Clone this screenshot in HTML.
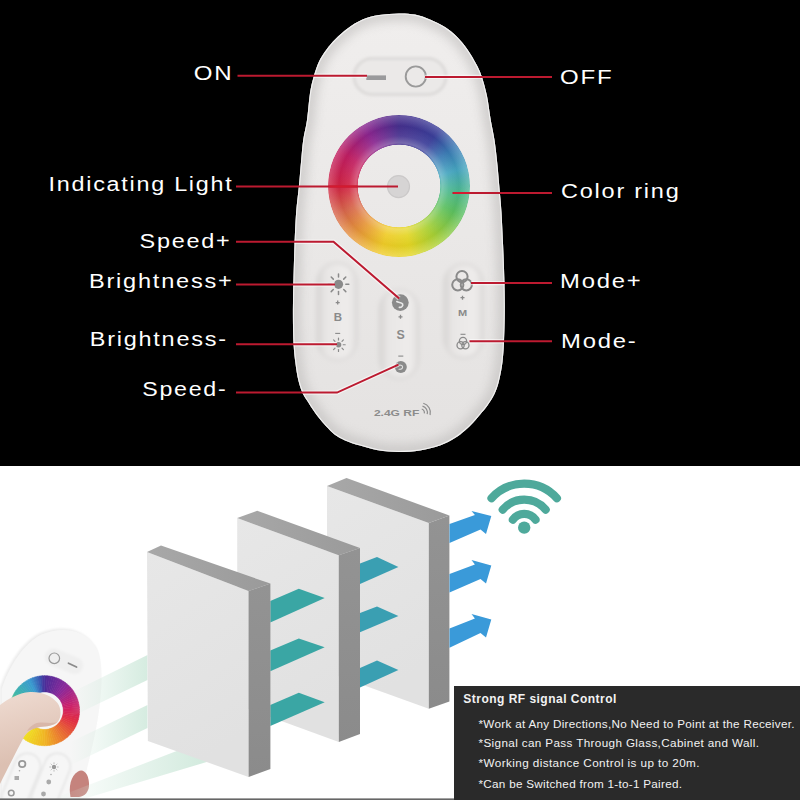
<!DOCTYPE html>
<html><head><meta charset="utf-8">
<style>
html,body{margin:0;padding:0;width:800px;height:800px;overflow:hidden;background:#fff}
#wrap{position:relative;width:800px;height:800px}
svg{position:absolute;left:0;top:0}
.ring{position:absolute;border-radius:50%}
</style></head><body><div id="wrap">
<svg width="800" height="800" viewBox="0 0 800 800">
<defs>
  <filter id="shade" x="-10%" y="-10%" width="120%" height="120%"><feGaussianBlur stdDeviation="5"/></filter>
  <linearGradient id="pillg" x1="0" y1="0" x2="1" y2="0">
    <stop offset="0" stop-color="#d6d4d3"/>
    <stop offset="0.22" stop-color="#e8e6e5"/>
    <stop offset="0.75" stop-color="#eeeceb"/>
    <stop offset="0.92" stop-color="#e6e4e3"/>
    <stop offset="1" stop-color="#d9d7d6"/>
  </linearGradient>
  <linearGradient id="topf" x1="0" y1="0" x2="1" y2="0">
    <stop offset="0" stop-color="#a8a8a8"/><stop offset="1" stop-color="#9a9a9a"/>
  </linearGradient>
  <linearGradient id="sidef" x1="0" y1="0" x2="0" y2="1">
    <stop offset="0" stop-color="#939393"/><stop offset="1" stop-color="#8b8b8b"/>
  </linearGradient>
  <linearGradient id="frontf" x1="0" y1="0" x2="0.3" y2="1">
    <stop offset="0" stop-color="#e7e7e7"/><stop offset="1" stop-color="#e1e1e1"/>
  </linearGradient>
  <filter id="soft" x="-20%" y="-50%" width="140%" height="200%"><feGaussianBlur stdDeviation="1.5"/></filter>
  <filter id="soft2" x="-50%" y="-20%" width="200%" height="140%"><feGaussianBlur stdDeviation="2"/></filter>
  <linearGradient id="rbody" x1="0" y1="0" x2="0" y2="1">
    <stop offset="0" stop-color="#f0eeed"/>
    <stop offset="0.5" stop-color="#eae8e7"/>
    <stop offset="1" stop-color="#e4e2e1"/>
  </linearGradient>
</defs>
<rect x="0" y="0" width="800" height="466" fill="#000"/>
<rect x="0" y="466" width="800" height="334" fill="#fff"/>
<!-- remote body -->
<clipPath id="rclip"><path d="M399 13.4 C405.0 13.3 409.8 13.6 415 14.6 C420.2 15.6 425.0 17.4 430 19.5 C435.0 21.6 440.5 24.1 445 27 C449.5 29.9 453.2 33.0 457 36.75 C460.8 40.5 464.2 44.9 467.5 49.5 C470.8 54.1 474.1 60.0 476.5 64.5 C478.9 69.0 480.0 71.2 481.75 76.5 C483.5 81.8 485.5 88.8 487 96 C488.5 103.2 489.5 112.7 490.75 120 C492.0 127.3 493.4 132.9 494.5 140 C495.6 147.1 496.4 155.0 497.2 162.5 C498.0 170.0 498.5 176.7 499.2 185 C499.9 193.3 500.9 202.5 501.5 212.5 C502.1 222.5 502.6 234.2 503.1 245 C503.6 255.8 504.0 266.7 504.3 277.5 C504.6 288.3 504.9 299.2 504.8 310 C504.8 320.8 504.4 333.3 504 342 C503.6 350.7 503.3 355.5 502.5 362 C501.7 368.5 500.3 375.7 499 381 C497.7 386.3 496.4 389.9 494.5 394 C492.6 398.1 489.9 402.1 487.5 405.5 C485.1 408.9 482.6 411.6 480.2 414.4 C477.8 417.2 475.9 419.8 473.3 422.5 C470.7 425.2 467.8 428.1 464.75 430.65 C461.7 433.2 459.1 435.5 455 438 C450.9 440.5 445.8 443.4 440 445.5 C434.2 447.6 426.8 449.4 420 450.5 C413.2 451.6 406.0 452.0 399 452 C392.0 452.0 384.5 451.4 378 450.3 C371.5 449.2 365.5 447.1 360 445.5 C354.5 443.9 349.2 442.2 345 440.4 C340.8 438.6 337.9 437.0 334.8 434.7 C331.7 432.4 328.9 429.3 326.3 426.6 C323.7 423.9 321.6 421.2 319.4 418.5 C317.2 415.8 315.2 413.1 313.3 410.3 C311.4 407.6 309.7 404.7 308 402 C306.3 399.3 304.6 397.5 303 394 C301.4 390.5 299.8 386.3 298.5 381 C297.2 375.7 296.1 368.4 295.3 362 C294.5 355.6 293.9 351.2 293.5 342.5 C293.1 333.8 292.9 320.8 292.9 310 C292.9 299.2 293.2 288.3 293.5 277.5 C293.8 266.7 294.1 255.8 294.5 245 C294.9 234.2 295.4 222.5 296.1 212.5 C296.9 202.5 298.2 193.4 299 185 C299.8 176.6 300.3 169.5 301 162 C301.7 154.5 302.2 147.0 303.2 140 C304.2 133.0 305.9 127.8 307 120 C308.1 112.2 308.9 100.2 310 93 C311.1 85.8 312.2 81.8 313.75 76.5 C315.2 71.2 316.9 66.0 319 61.5 C321.1 57.0 323.8 53.2 326.5 49.5 C329.2 45.8 332.0 42.5 335.5 39 C339.0 35.5 343.0 31.8 347.5 28.5 C352.0 25.2 357.2 21.8 362.5 19.5 C367.8 17.2 372.9 16.0 379 15 C385.1 14.0 393.0 13.5 399 13.4Z"/></clipPath>
<path d="M399 13.4 C405.0 13.3 409.8 13.6 415 14.6 C420.2 15.6 425.0 17.4 430 19.5 C435.0 21.6 440.5 24.1 445 27 C449.5 29.9 453.2 33.0 457 36.75 C460.8 40.5 464.2 44.9 467.5 49.5 C470.8 54.1 474.1 60.0 476.5 64.5 C478.9 69.0 480.0 71.2 481.75 76.5 C483.5 81.8 485.5 88.8 487 96 C488.5 103.2 489.5 112.7 490.75 120 C492.0 127.3 493.4 132.9 494.5 140 C495.6 147.1 496.4 155.0 497.2 162.5 C498.0 170.0 498.5 176.7 499.2 185 C499.9 193.3 500.9 202.5 501.5 212.5 C502.1 222.5 502.6 234.2 503.1 245 C503.6 255.8 504.0 266.7 504.3 277.5 C504.6 288.3 504.9 299.2 504.8 310 C504.8 320.8 504.4 333.3 504 342 C503.6 350.7 503.3 355.5 502.5 362 C501.7 368.5 500.3 375.7 499 381 C497.7 386.3 496.4 389.9 494.5 394 C492.6 398.1 489.9 402.1 487.5 405.5 C485.1 408.9 482.6 411.6 480.2 414.4 C477.8 417.2 475.9 419.8 473.3 422.5 C470.7 425.2 467.8 428.1 464.75 430.65 C461.7 433.2 459.1 435.5 455 438 C450.9 440.5 445.8 443.4 440 445.5 C434.2 447.6 426.8 449.4 420 450.5 C413.2 451.6 406.0 452.0 399 452 C392.0 452.0 384.5 451.4 378 450.3 C371.5 449.2 365.5 447.1 360 445.5 C354.5 443.9 349.2 442.2 345 440.4 C340.8 438.6 337.9 437.0 334.8 434.7 C331.7 432.4 328.9 429.3 326.3 426.6 C323.7 423.9 321.6 421.2 319.4 418.5 C317.2 415.8 315.2 413.1 313.3 410.3 C311.4 407.6 309.7 404.7 308 402 C306.3 399.3 304.6 397.5 303 394 C301.4 390.5 299.8 386.3 298.5 381 C297.2 375.7 296.1 368.4 295.3 362 C294.5 355.6 293.9 351.2 293.5 342.5 C293.1 333.8 292.9 320.8 292.9 310 C292.9 299.2 293.2 288.3 293.5 277.5 C293.8 266.7 294.1 255.8 294.5 245 C294.9 234.2 295.4 222.5 296.1 212.5 C296.9 202.5 298.2 193.4 299 185 C299.8 176.6 300.3 169.5 301 162 C301.7 154.5 302.2 147.0 303.2 140 C304.2 133.0 305.9 127.8 307 120 C308.1 112.2 308.9 100.2 310 93 C311.1 85.8 312.2 81.8 313.75 76.5 C315.2 71.2 316.9 66.0 319 61.5 C321.1 57.0 323.8 53.2 326.5 49.5 C329.2 45.8 332.0 42.5 335.5 39 C339.0 35.5 343.0 31.8 347.5 28.5 C352.0 25.2 357.2 21.8 362.5 19.5 C367.8 17.2 372.9 16.0 379 15 C385.1 14.0 393.0 13.5 399 13.4Z" fill="url(#rbody)"/>
<g clip-path="url(#rclip)">
  <path d="M399 13.4 C405.0 13.3 409.8 13.6 415 14.6 C420.2 15.6 425.0 17.4 430 19.5 C435.0 21.6 440.5 24.1 445 27 C449.5 29.9 453.2 33.0 457 36.75 C460.8 40.5 464.2 44.9 467.5 49.5 C470.8 54.1 474.1 60.0 476.5 64.5 C478.9 69.0 480.0 71.2 481.75 76.5 C483.5 81.8 485.5 88.8 487 96 C488.5 103.2 489.5 112.7 490.75 120 C492.0 127.3 493.4 132.9 494.5 140 C495.6 147.1 496.4 155.0 497.2 162.5 C498.0 170.0 498.5 176.7 499.2 185 C499.9 193.3 500.9 202.5 501.5 212.5 C502.1 222.5 502.6 234.2 503.1 245 C503.6 255.8 504.0 266.7 504.3 277.5 C504.6 288.3 504.9 299.2 504.8 310 C504.8 320.8 504.4 333.3 504 342 C503.6 350.7 503.3 355.5 502.5 362 C501.7 368.5 500.3 375.7 499 381 C497.7 386.3 496.4 389.9 494.5 394 C492.6 398.1 489.9 402.1 487.5 405.5 C485.1 408.9 482.6 411.6 480.2 414.4 C477.8 417.2 475.9 419.8 473.3 422.5 C470.7 425.2 467.8 428.1 464.75 430.65 C461.7 433.2 459.1 435.5 455 438 C450.9 440.5 445.8 443.4 440 445.5 C434.2 447.6 426.8 449.4 420 450.5 C413.2 451.6 406.0 452.0 399 452 C392.0 452.0 384.5 451.4 378 450.3 C371.5 449.2 365.5 447.1 360 445.5 C354.5 443.9 349.2 442.2 345 440.4 C340.8 438.6 337.9 437.0 334.8 434.7 C331.7 432.4 328.9 429.3 326.3 426.6 C323.7 423.9 321.6 421.2 319.4 418.5 C317.2 415.8 315.2 413.1 313.3 410.3 C311.4 407.6 309.7 404.7 308 402 C306.3 399.3 304.6 397.5 303 394 C301.4 390.5 299.8 386.3 298.5 381 C297.2 375.7 296.1 368.4 295.3 362 C294.5 355.6 293.9 351.2 293.5 342.5 C293.1 333.8 292.9 320.8 292.9 310 C292.9 299.2 293.2 288.3 293.5 277.5 C293.8 266.7 294.1 255.8 294.5 245 C294.9 234.2 295.4 222.5 296.1 212.5 C296.9 202.5 298.2 193.4 299 185 C299.8 176.6 300.3 169.5 301 162 C301.7 154.5 302.2 147.0 303.2 140 C304.2 133.0 305.9 127.8 307 120 C308.1 112.2 308.9 100.2 310 93 C311.1 85.8 312.2 81.8 313.75 76.5 C315.2 71.2 316.9 66.0 319 61.5 C321.1 57.0 323.8 53.2 326.5 49.5 C329.2 45.8 332.0 42.5 335.5 39 C339.0 35.5 343.0 31.8 347.5 28.5 C352.0 25.2 357.2 21.8 362.5 19.5 C367.8 17.2 372.9 16.0 379 15 C385.1 14.0 393.0 13.5 399 13.4Z" fill="none" stroke="#bdbbba" stroke-width="16" filter="url(#shade)" opacity="0.55"/>
  <path d="M399 13.4 C405.0 13.3 409.8 13.6 415 14.6 C420.2 15.6 425.0 17.4 430 19.5 C435.0 21.6 440.5 24.1 445 27 C449.5 29.9 453.2 33.0 457 36.75 C460.8 40.5 464.2 44.9 467.5 49.5 C470.8 54.1 474.1 60.0 476.5 64.5 C478.9 69.0 480.0 71.2 481.75 76.5 C483.5 81.8 485.5 88.8 487 96 C488.5 103.2 489.5 112.7 490.75 120 C492.0 127.3 493.4 132.9 494.5 140 C495.6 147.1 496.4 155.0 497.2 162.5 C498.0 170.0 498.5 176.7 499.2 185 C499.9 193.3 500.9 202.5 501.5 212.5 C502.1 222.5 502.6 234.2 503.1 245 C503.6 255.8 504.0 266.7 504.3 277.5 C504.6 288.3 504.9 299.2 504.8 310 C504.8 320.8 504.4 333.3 504 342 C503.6 350.7 503.3 355.5 502.5 362 C501.7 368.5 500.3 375.7 499 381 C497.7 386.3 496.4 389.9 494.5 394 C492.6 398.1 489.9 402.1 487.5 405.5 C485.1 408.9 482.6 411.6 480.2 414.4 C477.8 417.2 475.9 419.8 473.3 422.5 C470.7 425.2 467.8 428.1 464.75 430.65 C461.7 433.2 459.1 435.5 455 438 C450.9 440.5 445.8 443.4 440 445.5 C434.2 447.6 426.8 449.4 420 450.5 C413.2 451.6 406.0 452.0 399 452 C392.0 452.0 384.5 451.4 378 450.3 C371.5 449.2 365.5 447.1 360 445.5 C354.5 443.9 349.2 442.2 345 440.4 C340.8 438.6 337.9 437.0 334.8 434.7 C331.7 432.4 328.9 429.3 326.3 426.6 C323.7 423.9 321.6 421.2 319.4 418.5 C317.2 415.8 315.2 413.1 313.3 410.3 C311.4 407.6 309.7 404.7 308 402 C306.3 399.3 304.6 397.5 303 394 C301.4 390.5 299.8 386.3 298.5 381 C297.2 375.7 296.1 368.4 295.3 362 C294.5 355.6 293.9 351.2 293.5 342.5 C293.1 333.8 292.9 320.8 292.9 310 C292.9 299.2 293.2 288.3 293.5 277.5 C293.8 266.7 294.1 255.8 294.5 245 C294.9 234.2 295.4 222.5 296.1 212.5 C296.9 202.5 298.2 193.4 299 185 C299.8 176.6 300.3 169.5 301 162 C301.7 154.5 302.2 147.0 303.2 140 C304.2 133.0 305.9 127.8 307 120 C308.1 112.2 308.9 100.2 310 93 C311.1 85.8 312.2 81.8 313.75 76.5 C315.2 71.2 316.9 66.0 319 61.5 C321.1 57.0 323.8 53.2 326.5 49.5 C329.2 45.8 332.0 42.5 335.5 39 C339.0 35.5 343.0 31.8 347.5 28.5 C352.0 25.2 357.2 21.8 362.5 19.5 C367.8 17.2 372.9 16.0 379 15 C385.1 14.0 393.0 13.5 399 13.4Z" fill="none" stroke="#fafafa" stroke-width="2.2" opacity="0.8"/>
</g>
<!-- top button recess -->
<rect x="354" y="58.5" width="92" height="36" rx="18" fill="#ebe9e8" stroke="#d9d7d6" stroke-width="2.5" filter="url(#soft)"/>
<rect x="366.3" y="75.4" width="19.7" height="4.6" fill="#9a9a9c"/>
<circle cx="415.8" cy="76.5" r="10.1" fill="none" stroke="#9a9a9a" stroke-width="1.9"/>
<!-- pills -->
<g filter="url(#soft2)">
<rect x="317" y="263" width="40" height="97" rx="20" fill="url(#pillg)" stroke="#d9d7d6" stroke-width="2"/>
<rect x="379.5" y="290" width="39" height="88.5" rx="19.5" fill="url(#pillg)" stroke="#d9d7d6" stroke-width="2"/>
<rect x="444" y="264" width="39" height="94" rx="19.5" fill="url(#pillg)" stroke="#d9d7d6" stroke-width="2"/>
</g>
</svg>
<div class="ring" style="left:328px;top:115px;width:142px;height:142px;background:conic-gradient(from 0deg,#46308e 0deg,#3b3f9a 35deg,#3a7ab4 55deg,#46a6c0 75deg,#4cb890 95deg,#5cc060 115deg,#a8d034 145deg,#e4d624 170deg,#f0cc28 195deg,#e89a38 220deg,#d8684c 245deg,#d02444 270deg,#c01e62 300deg,#8a2690 330deg,#46308e 360deg);-webkit-mask:radial-gradient(circle,transparent 41px,#000 41.6px)"></div>
<div class="ring" style="left:328px;top:115px;width:142px;height:142px;background:radial-gradient(circle,rgba(255,255,255,0.1) 41px,rgba(255,255,255,0.28) 43px,rgba(255,255,255,0.08) 50px,rgba(0,0,0,0.03) 60px,rgba(255,255,255,0.2) 70px,rgba(255,255,255,0.1) 71px);-webkit-mask:radial-gradient(circle,transparent 41px,#000 41.6px)"></div>
<svg width="800" height="800" viewBox="0 0 800 800">
<circle cx="398.5" cy="186.6" r="11" fill="#d6d4d4" stroke="#cbc9c9" stroke-width="1.2"/>
<!-- icons -->
<g fill="#8a8a8a" stroke="#8a8a8a">
  <circle cx="338.5" cy="284.3" r="4.6" stroke="none"/>
  <g stroke-width="1.5" stroke-linecap="round">
    <line x1="338.5" y1="274" x2="338.5" y2="277"/>
    <line x1="338.5" y1="291.6" x2="338.5" y2="294.6"/>
    <line x1="328.2" y1="284.3" x2="331.2" y2="284.3"/>
    <line x1="345.8" y1="284.3" x2="348.8" y2="284.3"/>
    <line x1="331.2" y1="277" x2="333.3" y2="279.1"/>
    <line x1="343.7" y1="289.5" x2="345.8" y2="291.6"/>
    <line x1="331.2" y1="291.6" x2="333.3" y2="289.5"/>
    <line x1="343.7" y1="279.1" x2="345.8" y2="277"/>
  </g>
  <circle cx="338.5" cy="344.75" r="2.8" stroke="none"/>
  <g stroke-width="1.2" stroke-linecap="round">
    <line x1="338.5" y1="338" x2="338.5" y2="340"/>
    <line x1="338.5" y1="349.5" x2="338.5" y2="351.5"/>
    <line x1="331.8" y1="344.75" x2="333.8" y2="344.75"/>
    <line x1="343.2" y1="344.75" x2="345.2" y2="344.75"/>
    <line x1="333.6" y1="339.9" x2="335" y2="341.3"/>
    <line x1="342" y1="348.2" x2="343.4" y2="349.6"/>
    <line x1="333.6" y1="349.6" x2="335" y2="348.2"/>
    <line x1="342" y1="341.3" x2="343.4" y2="339.9"/>
  </g>
  <circle cx="400.3" cy="302.6" r="8.4" stroke="none"/>
  <circle cx="400.8" cy="366.9" r="6" stroke="none"/>
  <g fill="none" stroke-width="2">
    <circle cx="457.8" cy="284.8" r="5.6"/>
    <circle cx="466.3" cy="284.8" r="5.6"/>
    <circle cx="462" cy="276.6" r="5.6"/>
  </g>
  <g fill="none" stroke-width="1.3">
    <circle cx="460.6" cy="345.2" r="3.6"/>
    <circle cx="465.4" cy="345.2" r="3.6"/>
    <circle cx="463" cy="341" r="3.6"/>
  </g>
</g>
<path d="M396.8 301.5 C398.5 302.8 401.5 302.2 402.6 304 C403.4 305.8 401.5 307.6 399.3 307.4" fill="none" stroke="#e8e8e8" stroke-width="1.6" stroke-linecap="round"/>
<path d="M398.3 365.6 C399.8 364.6 402.6 365.2 402.6 367 C402.6 368.6 400.6 369.3 399 369.3" fill="none" stroke="#e0e0e0" stroke-width="1.1" stroke-linecap="round"/>
<g fill="#8a8a8a" font-family="Liberation Sans" font-weight="bold" text-anchor="middle">
  <text x="338" y="320.5" font-size="11.5">B</text>
  <text x="400.6" y="338.7" font-size="12.4">S</text>
  <text x="462.6" y="316.3" font-size="8.7" textLength="9.2" lengthAdjust="spacingAndGlyphs">M</text>
</g>
<g stroke="#8a8a8a" stroke-width="1.3">
  <path d="M335.7 302.6 H339.7 M337.7 300.6 V304.6"/>
  <path d="M398.5 316.8 H402.5 M400.5 314.8 V318.8"/>
  <path d="M460.5 297.7 H464.5 M462.5 295.7 V299.7"/>
</g>
<g stroke="#8a8a8a" stroke-width="1.1">
  <line x1="335.2" y1="333.4" x2="340.2" y2="333.4"/>
  <line x1="398.3" y1="356.1" x2="403.3" y2="356.1"/>
  <line x1="460.5" y1="334.3" x2="465.5" y2="334.3"/>
</g>
<text x="373.9" y="415.6" font-family="Liberation Sans" font-weight="bold" font-size="8.3" fill="#8c8c8c" textLength="45.5" lengthAdjust="spacingAndGlyphs">2.4G RF</text>
<g fill="none" stroke="#8c8c8c" stroke-width="1.2"><path d="M421.73 409.02 A3.6 3.6 0 0 1 424.28 413.43"/><path d="M422.51 406.12 A6.6 6.6 0 0 1 427.18 414.21"/><path d="M423.28 403.23 A9.6 9.6 0 0 1 430.07 414.98"/></g>
<!-- red lines -->
<g stroke="#ffffff" stroke-width="4.4" fill="none" opacity="0.55" clip-path="url(#rclip)">
  <path d="M237.5 75.8 H367"/>
  <path d="M425 76.9 H552"/>
  <path d="M236 241.7 H333.5 L399.2 298.5"/>
  <path d="M236 284.6 H335"/>
  <path d="M236 344.3 H337"/>
  <path d="M236 392.6 H337 L398.5 364.6"/>
  <path d="M471 283.1 H552"/>
  <path d="M469.5 341.25 H552"/>
</g>
<g stroke="#bc1a30" stroke-width="2" fill="none">
  <path d="M237.5 75.8 H367"/>
  <path d="M425 76.9 H552"/>
  <path d="M236 186.6 H398"/>
  <path d="M452.5 192.9 H552"/>
  <path d="M236 241.7 H333.5 L399.2 298.5"/>
  <path d="M236 284.6 H335"/>
  <path d="M236 344.3 H337"/>
  <path d="M236 392.6 H337 L398.5 364.6"/>
  <path d="M471 283.1 H552"/>
  <path d="M469.5 341.25 H552"/>
</g>
<path d="M329 186.6 H357.5 M453.5 192.9 H470" stroke="#d41a30" stroke-width="2" fill="none"/>
<!-- labels -->
<g fill="#fff" font-family="Liberation Sans" font-size="20" letter-spacing="1.5">
  <text x="193.80" y="80" textLength="39.70" lengthAdjust="spacingAndGlyphs">ON</text>
  <text x="48.50" y="190.5" textLength="185.00" lengthAdjust="spacingAndGlyphs">Indicating Light</text>
  <text x="139.50" y="248" textLength="92.00" lengthAdjust="spacingAndGlyphs">Speed+</text>
  <text x="89.00" y="288" textLength="144.50" lengthAdjust="spacingAndGlyphs">Brightness+</text>
  <text x="89.80" y="345.5" textLength="137.90" lengthAdjust="spacingAndGlyphs">Brightness-</text>
  <text x="142.20" y="395.5" textLength="85.30" lengthAdjust="spacingAndGlyphs">Speed-</text>
  <text x="560.00" y="83.5" textLength="53.50" lengthAdjust="spacingAndGlyphs">OFF</text>
  <text x="561.00" y="197.5" textLength="119.50" lengthAdjust="spacingAndGlyphs">Color ring</text>
  <text x="560.00" y="287.5" textLength="82.50" lengthAdjust="spacingAndGlyphs">Mode+</text>
  <text x="561.00" y="347.5" textLength="76.50" lengthAdjust="spacingAndGlyphs">Mode-</text>
</g>
<!-- bottom section -->
<!-- walls -->
<!-- wall 3 -->
<polygon points="327,486 428.8,523 428.8,708.8 327,672" fill="url(#frontf)"/>
<polygon points="327,486 346.5,478 449.4,515.5 428.8,523" fill="url(#topf)"/>
<polygon points="428.8,523 449.4,515.5 449.4,701.4 428.8,708.8" fill="url(#sidef)"/>
<!-- beams between wall2 and wall3 -->
<g fill="#3a9fb2">
  <polygon points="360,563.6 377,556.9 398.4,567 360,583.9"/>
  <polygon points="360,613 377,606.4 398.4,616 360,632.25"/>
  <polygon points="360,668 377,660.4 398.4,670 360,687.4"/>
</g>
<!-- wall 2 -->
<polygon points="237.2,518 338.8,555.2 338.8,742 237.2,705" fill="url(#frontf)"/>
<polygon points="237.2,518 257.2,510.8 360,548 338.8,555.2" fill="url(#topf)"/>
<polygon points="338.8,555.2 360,548 360,734 338.8,742" fill="url(#sidef)"/>
<!-- beams between wall1 and wall2 -->
<g fill="#3aa6a4">
  <polygon points="270.3,601 298.8,588.75 324.7,598.1 270.3,622.5"/>
  <polygon points="270.3,650.6 298.8,638.4 324.7,647.25 270.3,671.25"/>
  <polygon points="270.3,705 298.8,692.8 324.7,702.2 270.3,726"/>
</g>
<!-- green light bands -->
<defs>
  <linearGradient id="band" x1="70" y1="0" x2="150" y2="0" gradientUnits="userSpaceOnUse">
    <stop offset="0" stop-color="#d4ebdf" stop-opacity="0"/>
    <stop offset="1" stop-color="#d4ebdf" stop-opacity="1"/>
  </linearGradient>
  <linearGradient id="band3" x1="70" y1="0" x2="200" y2="0" gradientUnits="userSpaceOnUse">
    <stop offset="0" stop-color="#d4ebdf" stop-opacity="0.1"/>
    <stop offset="1" stop-color="#d4ebdf" stop-opacity="1"/>
  </linearGradient>
  <linearGradient id="skin" x1="0" y1="690" x2="20" y2="760" gradientUnits="userSpaceOnUse">
    <stop offset="0" stop-color="#efdcd2"/>
    <stop offset="0.5" stop-color="#e6cec2"/>
    <stop offset="1" stop-color="#dcc0b2"/>
  </linearGradient>
  <filter id="blur1" x="-20%" y="-20%" width="140%" height="140%"><feGaussianBlur stdDeviation="1.2"/></filter>
</defs>
<!-- small remote -->
<path d="M0 688 C8 664 22 642 40 633 C58 625 84 626 96 648 C103 664 100 700 94 730 C90 750 84 772 78 800 L0 800 Z" fill="#ececec" filter="url(#blur1)"/>
<path d="M0 688 C8 664 22 642 40 633 C58 625 84 626 96 648 C103 664 100 700 94 730 C90 750 84 772 78 800 L0 800 Z" fill="#f6f6f6" transform="translate(1.5,1.5)"/>
<g transform="rotate(22 62 661)"><rect x="44" y="652" width="40" height="17" rx="8.5" fill="#efefef" filter="url(#blur1)"/></g>
<circle cx="54.3" cy="658.3" r="5.3" fill="none" stroke="#9a9a9a" stroke-width="1.2"/>
<line x1="68.5" y1="663.2" x2="76.5" y2="667" stroke="#8a8a8a" stroke-width="1.8" stroke-linecap="round"/>
<g id="sring"><path d="M44.50 675.70 A35 35 0 0 1 47.19 675.80 L45.94 691.96 A18.8 18.8 0 0 0 44.50 691.90Z" fill="#4d2c98" stroke="#4d2c98" stroke-width="0.5"/><path d="M46.94 675.79 A35 35 0 0 1 49.61 676.08 L47.25 692.10 A18.8 18.8 0 0 0 45.81 691.95Z" fill="#542c98" stroke="#542c98" stroke-width="0.5"/><path d="M49.37 676.04 A35 35 0 0 1 52.02 676.52 L48.54 692.34 A18.8 18.8 0 0 0 47.12 692.08Z" fill="#5a2c98" stroke="#5a2c98" stroke-width="0.5"/><path d="M51.78 676.46 A35 35 0 0 1 54.38 677.12 L49.81 692.66 A18.8 18.8 0 0 0 48.41 692.31Z" fill="#602b99" stroke="#602b99" stroke-width="0.5"/><path d="M54.15 677.06 A35 35 0 0 1 56.70 677.90 L51.05 693.08 A18.8 18.8 0 0 0 49.68 692.63Z" fill="#672b99" stroke="#672b99" stroke-width="0.5"/><path d="M56.47 677.81 A35 35 0 0 1 58.96 678.83 L52.27 693.58 A18.8 18.8 0 0 0 50.93 693.03Z" fill="#6d2b99" stroke="#6d2b99" stroke-width="0.5"/><path d="M58.74 678.73 A35 35 0 0 1 61.15 679.91 L53.44 694.16 A18.8 18.8 0 0 0 52.15 693.53Z" fill="#742b99" stroke="#742b99" stroke-width="0.5"/><path d="M60.93 679.80 A35 35 0 0 1 63.25 681.15 L54.57 694.83 A18.8 18.8 0 0 0 53.33 694.10Z" fill="#7a2a9a" stroke="#7a2a9a" stroke-width="0.5"/><path d="M63.05 681.02 A35 35 0 0 1 65.27 682.53 L55.66 695.57 A18.8 18.8 0 0 0 54.46 694.76Z" fill="#802a9a" stroke="#802a9a" stroke-width="0.5"/><path d="M65.07 682.38 A35 35 0 0 1 67.18 684.05 L56.68 696.38 A18.8 18.8 0 0 0 55.55 695.49Z" fill="#872a9a" stroke="#872a9a" stroke-width="0.5"/><path d="M67.00 683.89 A35 35 0 0 1 68.99 685.69 L57.65 697.27 A18.8 18.8 0 0 0 56.58 696.30Z" fill="#8d2998" stroke="#8d2998" stroke-width="0.5"/><path d="M68.81 685.52 A35 35 0 0 1 70.67 687.46 L58.56 698.22 A18.8 18.8 0 0 0 57.56 697.18Z" fill="#942893" stroke="#942893" stroke-width="0.5"/><path d="M70.51 687.28 A35 35 0 0 1 72.23 689.34 L59.40 699.23 A18.8 18.8 0 0 0 58.47 698.12Z" fill="#9a278e" stroke="#9a278e" stroke-width="0.5"/><path d="M72.08 689.15 A35 35 0 0 1 73.65 691.33 L60.16 700.30 A18.8 18.8 0 0 0 59.31 699.13Z" fill="#a12689" stroke="#a12689" stroke-width="0.5"/><path d="M73.52 691.13 A35 35 0 0 1 74.93 693.41 L60.85 701.41 A18.8 18.8 0 0 0 60.09 700.19Z" fill="#a82584" stroke="#a82584" stroke-width="0.5"/><path d="M74.81 693.20 A35 35 0 0 1 76.06 695.58 L61.45 702.58 A18.8 18.8 0 0 0 60.78 701.30Z" fill="#ae2480" stroke="#ae2480" stroke-width="0.5"/><path d="M75.96 695.36 A35 35 0 0 1 77.04 697.82 L61.98 703.78 A18.8 18.8 0 0 0 61.40 702.46Z" fill="#b5237b" stroke="#b5237b" stroke-width="0.5"/><path d="M76.95 697.59 A35 35 0 0 1 77.86 700.12 L62.42 705.02 A18.8 18.8 0 0 0 61.93 703.66Z" fill="#bc2276" stroke="#bc2276" stroke-width="0.5"/><path d="M77.79 699.88 A35 35 0 0 1 78.52 702.47 L62.77 706.28 A18.8 18.8 0 0 0 62.38 704.89Z" fill="#c22171" stroke="#c22171" stroke-width="0.5"/><path d="M78.46 702.23 A35 35 0 0 1 79.01 704.86 L63.04 707.56 A18.8 18.8 0 0 0 62.74 706.15Z" fill="#c9206c" stroke="#c9206c" stroke-width="0.5"/><path d="M78.97 704.62 A35 35 0 0 1 79.33 707.28 L63.21 708.87 A18.8 18.8 0 0 0 63.01 707.44Z" fill="#cd2067" stroke="#cd2067" stroke-width="0.5"/><path d="M79.31 707.04 A35 35 0 0 1 79.49 709.72 L63.29 710.18 A18.8 18.8 0 0 0 63.20 708.73Z" fill="#d02262" stroke="#d02262" stroke-width="0.5"/><path d="M79.48 709.48 A35 35 0 0 1 79.47 712.17 L63.28 711.49 A18.8 18.8 0 0 0 63.29 710.04Z" fill="#d3255d" stroke="#d3255d" stroke-width="0.5"/><path d="M79.48 711.92 A35 35 0 0 1 79.28 714.60 L63.18 712.80 A18.8 18.8 0 0 0 63.29 711.36Z" fill="#d52758" stroke="#d52758" stroke-width="0.5"/><path d="M79.31 714.36 A35 35 0 0 1 78.93 717.02 L62.99 714.09 A18.8 18.8 0 0 0 63.20 712.67Z" fill="#d82953" stroke="#d82953" stroke-width="0.5"/><path d="M78.97 716.78 A35 35 0 0 1 78.40 719.40 L62.71 715.38 A18.8 18.8 0 0 0 63.01 713.96Z" fill="#db2b4e" stroke="#db2b4e" stroke-width="0.5"/><path d="M78.46 719.17 A35 35 0 0 1 77.71 721.75 L62.34 716.63 A18.8 18.8 0 0 0 62.74 715.25Z" fill="#dd2e49" stroke="#dd2e49" stroke-width="0.5"/><path d="M77.79 721.52 A35 35 0 0 1 76.86 724.04 L61.88 717.86 A18.8 18.8 0 0 0 62.38 716.51Z" fill="#e03044" stroke="#e03044" stroke-width="0.5"/><path d="M76.95 723.81 A35 35 0 0 1 75.85 726.26 L61.34 719.06 A18.8 18.8 0 0 0 61.93 717.74Z" fill="#e13842" stroke="#e13842" stroke-width="0.5"/><path d="M75.96 726.04 A35 35 0 0 1 74.69 728.41 L60.72 720.21 A18.8 18.8 0 0 0 61.40 718.94Z" fill="#e23f40" stroke="#e23f40" stroke-width="0.5"/><path d="M74.81 728.20 A35 35 0 0 1 73.38 730.47 L60.01 721.32 A18.8 18.8 0 0 0 60.78 720.10Z" fill="#e3473e" stroke="#e3473e" stroke-width="0.5"/><path d="M73.52 730.27 A35 35 0 0 1 71.93 732.44 L59.23 722.38 A18.8 18.8 0 0 0 60.09 721.21Z" fill="#e44f3b" stroke="#e44f3b" stroke-width="0.5"/><path d="M72.08 732.25 A35 35 0 0 1 70.35 734.30 L58.38 723.38 A18.8 18.8 0 0 0 59.31 722.27Z" fill="#e55739" stroke="#e55739" stroke-width="0.5"/><path d="M70.51 734.12 A35 35 0 0 1 68.64 736.05 L57.46 724.31 A18.8 18.8 0 0 0 58.47 723.28Z" fill="#e65e37" stroke="#e65e37" stroke-width="0.5"/><path d="M68.81 735.88 A35 35 0 0 1 66.81 737.67 L56.48 725.19 A18.8 18.8 0 0 0 57.56 724.22Z" fill="#e76635" stroke="#e76635" stroke-width="0.5"/><path d="M67.00 737.51 A35 35 0 0 1 64.87 739.16 L55.44 725.99 A18.8 18.8 0 0 0 56.58 725.10Z" fill="#e86e33" stroke="#e86e33" stroke-width="0.5"/><path d="M65.07 739.02 A35 35 0 0 1 62.84 740.51 L54.35 726.71 A18.8 18.8 0 0 0 55.55 725.91Z" fill="#e97532" stroke="#e97532" stroke-width="0.5"/><path d="M63.05 740.38 A35 35 0 0 1 60.72 741.72 L53.21 727.36 A18.8 18.8 0 0 0 54.46 726.64Z" fill="#ea7c30" stroke="#ea7c30" stroke-width="0.5"/><path d="M60.93 741.60 A35 35 0 0 1 58.51 742.77 L52.03 727.93 A18.8 18.8 0 0 0 53.33 727.30Z" fill="#eb842e" stroke="#eb842e" stroke-width="0.5"/><path d="M58.74 742.67 A35 35 0 0 1 56.24 743.67 L50.81 728.41 A18.8 18.8 0 0 0 52.15 727.87Z" fill="#ec8b2d" stroke="#ec8b2d" stroke-width="0.5"/><path d="M56.47 743.59 A35 35 0 0 1 53.91 744.41 L49.56 728.81 A18.8 18.8 0 0 0 50.93 728.37Z" fill="#ec932b" stroke="#ec932b" stroke-width="0.5"/><path d="M54.15 744.34 A35 35 0 0 1 51.54 744.99 L48.28 729.12 A18.8 18.8 0 0 0 49.68 728.77Z" fill="#ed9a2a" stroke="#ed9a2a" stroke-width="0.5"/><path d="M51.78 744.94 A35 35 0 0 1 49.13 745.39 L46.99 729.33 A18.8 18.8 0 0 0 48.41 729.09Z" fill="#eea228" stroke="#eea228" stroke-width="0.5"/><path d="M49.37 745.36 A35 35 0 0 1 46.70 745.63 L45.68 729.46 A18.8 18.8 0 0 0 47.12 729.32Z" fill="#efa926" stroke="#efa926" stroke-width="0.5"/><path d="M46.94 745.61 A35 35 0 0 1 44.26 745.70 L44.37 729.50 A18.8 18.8 0 0 0 45.81 729.45Z" fill="#f0b025" stroke="#f0b025" stroke-width="0.5"/><path d="M44.50 745.70 A35 35 0 0 1 41.81 745.60 L43.06 729.44 A18.8 18.8 0 0 0 44.50 729.50Z" fill="#f0b624" stroke="#f0b624" stroke-width="0.5"/><path d="M42.06 745.61 A35 35 0 0 1 39.39 745.32 L41.75 729.30 A18.8 18.8 0 0 0 43.19 729.45Z" fill="#f0bb24" stroke="#f0bb24" stroke-width="0.5"/><path d="M39.63 745.36 A35 35 0 0 1 36.98 744.88 L40.46 729.06 A18.8 18.8 0 0 0 41.88 729.32Z" fill="#f0bf24" stroke="#f0bf24" stroke-width="0.5"/><path d="M37.22 744.94 A35 35 0 0 1 34.62 744.28 L39.19 728.74 A18.8 18.8 0 0 0 40.59 729.09Z" fill="#f0c324" stroke="#f0c324" stroke-width="0.5"/><path d="M34.85 744.34 A35 35 0 0 1 32.30 743.50 L37.95 728.32 A18.8 18.8 0 0 0 39.32 728.77Z" fill="#f0c824" stroke="#f0c824" stroke-width="0.5"/><path d="M32.53 743.59 A35 35 0 0 1 30.04 742.57 L36.73 727.82 A18.8 18.8 0 0 0 38.07 728.37Z" fill="#f0cc24" stroke="#f0cc24" stroke-width="0.5"/><path d="M30.26 742.67 A35 35 0 0 1 27.85 741.49 L35.56 727.24 A18.8 18.8 0 0 0 36.85 727.87Z" fill="#f0d124" stroke="#f0d124" stroke-width="0.5"/><path d="M28.07 741.60 A35 35 0 0 1 25.75 740.25 L34.43 726.57 A18.8 18.8 0 0 0 35.67 727.30Z" fill="#f0d524" stroke="#f0d524" stroke-width="0.5"/><path d="M25.95 740.38 A35 35 0 0 1 23.73 738.87 L33.34 725.83 A18.8 18.8 0 0 0 34.54 726.64Z" fill="#f0d924" stroke="#f0d924" stroke-width="0.5"/><path d="M23.93 739.02 A35 35 0 0 1 21.82 737.35 L32.32 725.02 A18.8 18.8 0 0 0 33.45 725.91Z" fill="#f0de24" stroke="#f0de24" stroke-width="0.5"/><path d="M22.00 737.51 A35 35 0 0 1 20.01 735.71 L31.35 724.13 A18.8 18.8 0 0 0 32.42 725.10Z" fill="#ecdf25" stroke="#ecdf25" stroke-width="0.5"/><path d="M20.19 735.88 A35 35 0 0 1 18.33 733.94 L30.44 723.18 A18.8 18.8 0 0 0 31.44 724.22Z" fill="#e5de28" stroke="#e5de28" stroke-width="0.5"/><path d="M18.49 734.12 A35 35 0 0 1 16.77 732.06 L29.60 722.17 A18.8 18.8 0 0 0 30.53 723.28Z" fill="#dedc2a" stroke="#dedc2a" stroke-width="0.5"/><path d="M16.92 732.25 A35 35 0 0 1 15.35 730.07 L28.84 721.10 A18.8 18.8 0 0 0 29.69 722.27Z" fill="#d7db2d" stroke="#d7db2d" stroke-width="0.5"/><path d="M15.48 730.27 A35 35 0 0 1 14.07 727.99 L28.15 719.99 A18.8 18.8 0 0 0 28.91 721.21Z" fill="#d0da2f" stroke="#d0da2f" stroke-width="0.5"/><path d="M14.19 728.20 A35 35 0 0 1 12.94 725.82 L27.55 718.82 A18.8 18.8 0 0 0 28.22 720.10Z" fill="#c9d832" stroke="#c9d832" stroke-width="0.5"/><path d="M13.04 726.04 A35 35 0 0 1 11.96 723.58 L27.02 717.62 A18.8 18.8 0 0 0 27.60 718.94Z" fill="#c2d734" stroke="#c2d734" stroke-width="0.5"/><path d="M12.05 723.81 A35 35 0 0 1 11.14 721.28 L26.58 716.38 A18.8 18.8 0 0 0 27.07 717.74Z" fill="#bbd537" stroke="#bbd537" stroke-width="0.5"/><path d="M11.21 721.52 A35 35 0 0 1 10.48 718.93 L26.23 715.12 A18.8 18.8 0 0 0 26.62 716.51Z" fill="#b4d439" stroke="#b4d439" stroke-width="0.5"/><path d="M10.54 719.17 A35 35 0 0 1 9.99 716.54 L25.96 713.84 A18.8 18.8 0 0 0 26.26 715.25Z" fill="#acd23c" stroke="#acd23c" stroke-width="0.5"/><path d="M10.03 716.78 A35 35 0 0 1 9.67 714.12 L25.79 712.53 A18.8 18.8 0 0 0 25.99 713.96Z" fill="#a5d13e" stroke="#a5d13e" stroke-width="0.5"/><path d="M9.69 714.36 A35 35 0 0 1 9.51 711.68 L25.71 711.22 A18.8 18.8 0 0 0 25.80 712.67Z" fill="#9dcf43" stroke="#9dcf43" stroke-width="0.5"/><path d="M9.52 711.92 A35 35 0 0 1 9.53 709.23 L25.72 709.91 A18.8 18.8 0 0 0 25.71 711.36Z" fill="#92cd4f" stroke="#92cd4f" stroke-width="0.5"/><path d="M9.52 709.48 A35 35 0 0 1 9.72 706.80 L25.82 708.60 A18.8 18.8 0 0 0 25.71 710.04Z" fill="#87ca5b" stroke="#87ca5b" stroke-width="0.5"/><path d="M9.69 707.04 A35 35 0 0 1 10.07 704.38 L26.01 707.31 A18.8 18.8 0 0 0 25.80 708.73Z" fill="#7cc767" stroke="#7cc767" stroke-width="0.5"/><path d="M10.03 704.62 A35 35 0 0 1 10.60 702.00 L26.29 706.02 A18.8 18.8 0 0 0 25.99 707.44Z" fill="#71c473" stroke="#71c473" stroke-width="0.5"/><path d="M10.54 702.23 A35 35 0 0 1 11.29 699.65 L26.66 704.77 A18.8 18.8 0 0 0 26.26 706.15Z" fill="#66c27e" stroke="#66c27e" stroke-width="0.5"/><path d="M11.21 699.88 A35 35 0 0 1 12.14 697.36 L27.12 703.54 A18.8 18.8 0 0 0 26.62 704.89Z" fill="#5bbf8a" stroke="#5bbf8a" stroke-width="0.5"/><path d="M12.05 697.59 A35 35 0 0 1 13.15 695.14 L27.66 702.34 A18.8 18.8 0 0 0 27.07 703.66Z" fill="#50bc96" stroke="#50bc96" stroke-width="0.5"/><path d="M13.04 695.36 A35 35 0 0 1 14.31 692.99 L28.28 701.19 A18.8 18.8 0 0 0 27.60 702.46Z" fill="#45b9a2" stroke="#45b9a2" stroke-width="0.5"/><path d="M14.19 693.20 A35 35 0 0 1 15.62 690.93 L28.99 700.08 A18.8 18.8 0 0 0 28.22 701.30Z" fill="#40b6aa" stroke="#40b6aa" stroke-width="0.5"/><path d="M15.48 691.13 A35 35 0 0 1 17.07 688.96 L29.77 699.02 A18.8 18.8 0 0 0 28.91 700.19Z" fill="#3fb3af" stroke="#3fb3af" stroke-width="0.5"/><path d="M16.92 689.15 A35 35 0 0 1 18.65 687.10 L30.62 698.02 A18.8 18.8 0 0 0 29.69 699.13Z" fill="#3eafb3" stroke="#3eafb3" stroke-width="0.5"/><path d="M18.49 687.28 A35 35 0 0 1 20.36 685.35 L31.54 697.09 A18.8 18.8 0 0 0 30.53 698.12Z" fill="#3eacb8" stroke="#3eacb8" stroke-width="0.5"/><path d="M20.19 685.52 A35 35 0 0 1 22.19 683.73 L32.52 696.21 A18.8 18.8 0 0 0 31.44 697.18Z" fill="#3da9bd" stroke="#3da9bd" stroke-width="0.5"/><path d="M22.00 683.89 A35 35 0 0 1 24.13 682.24 L33.56 695.41 A18.8 18.8 0 0 0 32.42 696.30Z" fill="#3ca5c1" stroke="#3ca5c1" stroke-width="0.5"/><path d="M23.93 682.38 A35 35 0 0 1 26.16 680.89 L34.65 694.69 A18.8 18.8 0 0 0 33.45 695.49Z" fill="#3ca2c6" stroke="#3ca2c6" stroke-width="0.5"/><path d="M25.95 681.02 A35 35 0 0 1 28.28 679.68 L35.79 694.04 A18.8 18.8 0 0 0 34.54 694.76Z" fill="#3b9eca" stroke="#3b9eca" stroke-width="0.5"/><path d="M28.07 679.80 A35 35 0 0 1 30.49 678.63 L36.97 693.47 A18.8 18.8 0 0 0 35.67 694.10Z" fill="#3a9bcf" stroke="#3a9bcf" stroke-width="0.5"/><path d="M30.26 678.73 A35 35 0 0 1 32.76 677.73 L38.19 692.99 A18.8 18.8 0 0 0 36.85 693.53Z" fill="#3a8eca" stroke="#3a8eca" stroke-width="0.5"/><path d="M32.53 677.81 A35 35 0 0 1 35.09 676.99 L39.44 692.59 A18.8 18.8 0 0 0 38.07 693.03Z" fill="#3a7ec3" stroke="#3a7ec3" stroke-width="0.5"/><path d="M34.85 677.06 A35 35 0 0 1 37.46 676.41 L40.72 692.28 A18.8 18.8 0 0 0 39.32 692.63Z" fill="#3a6ebb" stroke="#3a6ebb" stroke-width="0.5"/><path d="M37.22 676.46 A35 35 0 0 1 39.87 676.01 L42.01 692.07 A18.8 18.8 0 0 0 40.59 692.31Z" fill="#3a5eb4" stroke="#3a5eb4" stroke-width="0.5"/><path d="M39.63 676.04 A35 35 0 0 1 42.30 675.77 L43.32 691.94 A18.8 18.8 0 0 0 41.88 692.08Z" fill="#3e4caa" stroke="#3e4caa" stroke-width="0.5"/><path d="M42.06 675.79 A35 35 0 0 1 44.74 675.70 L44.63 691.90 A18.8 18.8 0 0 0 43.19 691.95Z" fill="#46369e" stroke="#46369e" stroke-width="0.5"/></g>
<!-- finger -->
<path d="M0 705 C8 699 18 693 30 692 C42 691.5 52 696 57.5 703 C61.5 708.5 61.5 717 58 721.5 C54 726 46 726.5 40 727 C33 728 28 731 24 737 C18 748 10 764 0 784 Z" fill="url(#skin)"/>
<path d="M40 727 C46 726.5 54 726 58 721.5 C55 723.5 48 723 42 722.5 C36 722 31 725 27 731 Z" fill="#cfa898" opacity="0.55"/>
<path d="M70.5 797 C68.5 787 70.5 776 78 771.5 C84 768 89.5 775 89 786 C88.5 792 85 796 79 797 Z" fill="#c5837d"/>
<!-- small remote buttons -->
<g fill="none" stroke="#e8e8e8" stroke-width="2" filter="url(#blur1)">
  <rect x="8" y="752" width="26" height="60" rx="13" transform="rotate(22 21 782)"/>
  <rect x="38" y="752" width="26" height="60" rx="13" transform="rotate(22 51 782)"/>
</g>
<circle cx="22.2" cy="764" r="3.2" fill="none" stroke="#999" stroke-width="1.8"/>
<circle cx="19.5" cy="770.7" r="0.8" fill="#aaa"/>
<rect x="14.5" y="776" width="4.5" height="4" fill="#aaa"/>
<circle cx="11.25" cy="793" r="2.8" fill="none" stroke="#999" stroke-width="1.5"/>
<circle cx="54" cy="767" r="2.2" fill="#999"/>
<g stroke="#aaa" stroke-width="0.9"><path d="M54 762.5V763.8M54 770.2V771.5M49.5 767H50.8M57.2 767H58.5M50.8 763.8L51.7 764.7M56.3 769.3L57.2 770.2M50.8 770.2L51.7 769.3M56.3 764.7L57.2 763.8"/></g>
<circle cx="51" cy="774.5" r="0.8" fill="#aaa"/>
<circle cx="48.75" cy="782" r="2.4" fill="#aaa"/>
<circle cx="43.5" cy="794" r="2.4" fill="#aaa"/>
<g>
  <polygon points="50,703 147.5,655 147.5,680 50,727" fill="url(#band)"/>
  <polygon points="50,752 147.5,705 147.5,728 50,775" fill="url(#band)"/>
  <polygon points="60,796 200,742 230,755 80,800 60,800" fill="url(#band3)"/>
</g>
<!-- wall 1 -->
<polygon points="147,552 248.6,591 248.6,777 147.9,741" fill="url(#frontf)"/>
<polygon points="147,552 161,545.6 270.4,583.6 248.6,591" fill="url(#topf)"/>
<polygon points="248.6,591 270.4,583.6 270.4,769 248.6,777" fill="url(#sidef)"/>
<!-- blue arrows -->
<g fill="#3a9ad9">
  <polygon points="449.5,524 474.9,515 471.5,511 491.3,516 486,534 480.5,529.6 449.5,543"/>
  <polygon points="449.5,574 474.9,564.5 471.5,560 491.3,565.6 486,583.6 480.5,579 449.5,592.6"/>
  <polygon points="449.5,628.6 474.9,618.5 471.5,614 491.3,619.6 486,637.6 480.5,633 449.5,647.8"/>
</g>
<!-- wifi -->
<g fill="none" stroke="#4ea99b" stroke-width="8.2" stroke-linecap="round">
  <path d="M491.5 498.2 A44 44 0 0 1 556.9 498.2"/>
  <path d="M502.75 509.6 A28 28 0 0 1 545.65 509.6"/>
  <path d="M512.9 519.7 A13.8 13.8 0 0 1 535.5 519.7"/>
</g>
<circle cx="524.2" cy="527.6" r="6.2" fill="#4ea99b"/>
<!-- text box -->
<rect x="454" y="686" width="346" height="114" fill="#2a2a2a"/>
<rect x="0" y="798.4" width="454" height="1.6" fill="#666"/>
<g fill="#f2f2f2" font-family="Liberation Sans">
  <text x="463.3" y="702.8" font-size="12" font-weight="bold" textLength="153" lengthAdjust="spacing">Strong RF signal Control</text>
  <text x="478.5" y="727.6" font-size="11.7" textLength="316" lengthAdjust="spacing">*Work at Any Directions,No Need to Point at the Receiver.</text>
  <text x="478.5" y="746.7" font-size="11.7" textLength="280.5" lengthAdjust="spacing">*Signal can Pass Through Glass,Cabinet and Wall.</text>
  <text x="478.5" y="766.9" font-size="11.7" textLength="221" lengthAdjust="spacing">*Working distance Control is up to 20m.</text>
  <text x="478.5" y="788" font-size="11.7" textLength="203.5" lengthAdjust="spacing">*Can be Switched from 1-to-1 Paired.</text>
</g>
</svg>
</div></body></html>
